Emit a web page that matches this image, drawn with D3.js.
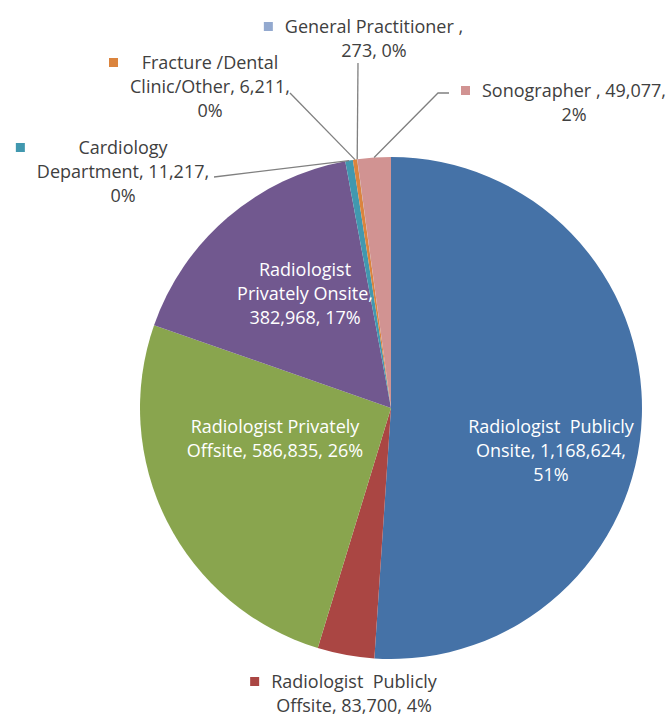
<!DOCTYPE html>
<html>
<head>
<meta charset="utf-8">
<script src="https://cdn.jsdelivr.net/npm/d3@7"></script>
<style>
  body { margin: 0; background: #fff; }
  svg { display: block; }
  text { font-family: "Open Sans", "Noto Sans", sans-serif; font-size: 18px; }
</style>
</head>
<body>
<svg id="chart"></svg>
<script>
// data
const categories = [
  "Radiologist Publicly Onsite",
  "Radiologist Publicly Offsite",
  "Radiologist Privately Offsite",
  "Radiologist Privately Onsite",
  "Cardiology Department",
  "Fracture /Dental Clinic/Other",
  "General Practitioner",
  "Sonographer"
];
const values = [1168624, 83700, 586835, 382968, 11217, 6211, 273, 49077];
const colors = ["#4572A7", "#AA4643", "#89A54E", "#71588F", "#4198AF", "#DB843D", "#93A9CF", "#D19392"];
const labelLines = [
  ["Radiologist  Publicly", "Onsite, 1,168,624,", "51%"],
  ["Radiologist  Publicly", "Offsite, 83,700, 4%"],
  ["Radiologist Privately", "Offsite, 586,835, 26%"],
  ["Radiologist", "Privately Onsite,", "382,968, 17%"],
  ["Cardiology", "Department, 11,217,", "0%"],
  ["Fracture /Dental", "Clinic/Other, 6,211,", "0%"],
  ["General Practitioner ,", "273, 0%"],
  ["Sonographer , 49,077,", "2%"]
];

// label layout: centre x, first line y, inside slice?, leader line start
const labelPos = [
  {x: 551, y: 427, inside: true},
  {x: 354, y: 682, inside: false},
  {x: 275, y: 427, inside: true},
  {x: 305, y: 270, inside: true},
  {x: 123, y: 148, inside: false, lead: [[214, 177]]},
  {x: 210, y: 63, inside: false, lead: [[290, 93]]},
  {x: 374, y: 27, inside: false, lead: [[358, 63]]},
  {x: 574, y: 91, inside: false, lead: [[449, 93], [438, 93]]}
];

const width = 672, height = 716,
  cx = 391, cy = 408, radius = 251, lineH = 24;

const svg = d3.select("#chart").attr("width", width).attr("height", height);

const pie = d3.pie().sort(null).value(d => d.value);
const arc = d3.arc().innerRadius(0).outerRadius(radius);

const rows = categories.map((c, i) => ({name: c, value: values[i], color: colors[i], lines: labelLines[i], pos: labelPos[i]}));
const arcs = pie(rows);

const g = svg.append("g").attr("transform", "translate(" + cx + "," + cy + ")");

g.selectAll("path.slice")
  .data(arcs)
  .join("path")
  .attr("class", "slice")
  .attr("d", arc)
  .attr("fill", d => d.data.color);

// leader lines from label to slice edge
const leaders = svg.append("g");
arcs.forEach(d => {
  if (!d.data.pos.lead) return;
  const mid = (d.startAngle + d.endAngle) / 2;
  const end = [cx + radius * Math.sin(mid), cy - radius * Math.cos(mid)];
  const pts = d.data.pos.lead.concat([end]);
  leaders.append("path")
    .attr("d", d3.line()(pts))
    .attr("fill", "none")
    .attr("stroke", "#808080")
    .attr("stroke-width", 1.3);
});

// labels
const labels = svg.append("g");
arcs.forEach(d => {
  const p = d.data.pos;
  const lg = labels.append("g");
  const t = lg.append("text")
    .attr("text-anchor", "middle")
    .attr("fill", p.inside ? "#ffffff" : "#404040");
  d.data.lines.forEach((ln, j) => {
    t.append("tspan")
      .attr("x", p.x)
      .attr("y", p.y + j * lineH)
      .attr("dy", "0.35em")
      .attr("xml:space", "preserve")
      .style("white-space", "pre")
      .text(ln);
  });
  if (!p.inside) {
    const bb = t.node().getBBox();
    lg.append("rect")
      .attr("x", bb.x - 21)
      .attr("y", p.y - 5)
      .attr("width", 9)
      .attr("height", 9)
      .attr("fill", d.data.color);
  }
});
</script>
</body>
</html>
